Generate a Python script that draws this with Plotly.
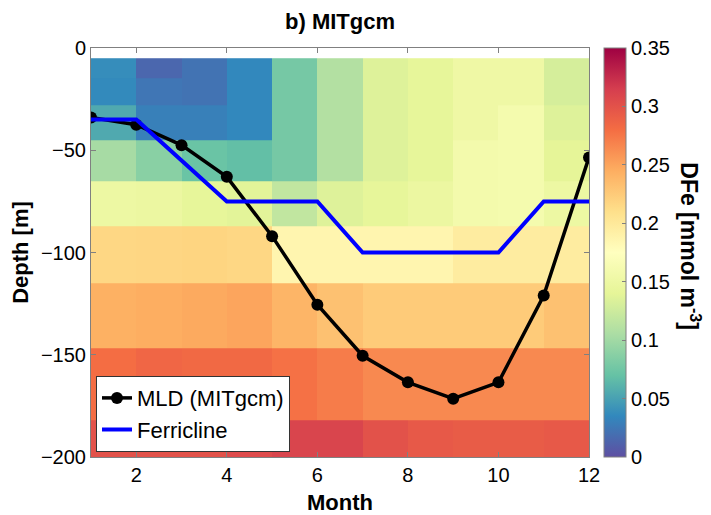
import plotly.graph_objects as go

# ---- data ----
months = [1, 2, 3, 4, 5, 6, 7, 8, 9, 10, 11, 12]
# layer edges (m), shallow -> deep
depth_edges = [-5, -15, -28, -45, -65, -87, -115, -147, -182, -200]
# DFe (mmol m^-3), rows shallow -> deep, columns = month bins 1-2 ... 11-12
dfe = [
    [0.038, 0.015, 0.022, 0.035, 0.078, 0.110, 0.135, 0.142, 0.152, 0.152, 0.130],
    [0.036, 0.024, 0.022, 0.035, 0.078, 0.110, 0.135, 0.142, 0.152, 0.152, 0.130],
    [0.055, 0.030, 0.030, 0.035, 0.078, 0.110, 0.135, 0.142, 0.152, 0.160, 0.135],
    [0.103, 0.088, 0.072, 0.068, 0.078, 0.110, 0.135, 0.142, 0.158, 0.160, 0.140],
    [0.150, 0.148, 0.142, 0.138, 0.118, 0.135, 0.142, 0.148, 0.158, 0.160, 0.150],
    [0.216, 0.217, 0.218, 0.216, 0.186, 0.186, 0.186, 0.186, 0.196, 0.196, 0.196],
    [0.243, 0.245, 0.247, 0.250, 0.240, 0.232, 0.225, 0.225, 0.225, 0.225, 0.232],
    [0.280, 0.285, 0.283, 0.283, 0.278, 0.272, 0.265, 0.265, 0.265, 0.265, 0.265],
    [0.300, 0.300, 0.300, 0.305, 0.310, 0.310, 0.300, 0.295, 0.293, 0.293, 0.295],
]
mld = [-34, -37.5, -47.5, -63, -92, -125.5, -150.5, -163.5, -171.5, -163.5, -121, -53.5]
ferricline = [-35, -35, -55, -75, -75, -75, -100, -100, -100, -100, -75, -75]

y_ticks = [0, -50, -100, -150, -200]
x_ticks = [2, 4, 6, 8, 10, 12]
cb_ticks = [0, 0.05, 0.1, 0.15, 0.2, 0.25, 0.3, 0.35]
cb_ticktext = ["0", "0.05", "0.1", "0.15", "0.2", "0.25", "0.3", "0.35"]

spectral_r = ["#5e4fa2", "#3288bd", "#66c2a5", "#abdda4", "#e6f598", "#ffffbf",
              "#fee08b", "#fdae61", "#f46d43", "#d53e4f", "#9e0142"]
colorscale = [[i / 10, c] for i, c in enumerate(spectral_r)]

FONT = "Liberation Sans, Arial, Helvetica, sans-serif"

# page body has an 8px margin: figure is drawn 8px right/down
W, H = 703, 507

fig = go.Figure()
fig.add_trace(go.Heatmap(
    x=months,
    y=depth_edges[::-1],
    z=dfe[::-1],
    zmin=0, zmax=0.35,
    colorscale=colorscale,
    showscale=True,
    colorbar=dict(
        x=1.03, xanchor="left", xpad=0,
        y=0.5, yanchor="middle", len=1, lenmode="fraction", ypad=0,
        thickness=22, thicknessmode="pixels",
        tickvals=cb_ticks, ticktext=cb_ticktext,
        ticks="inside", ticklen=4, tickcolor="#808080",
        outlinecolor="#808080", outlinewidth=1,
        tickfont=dict(size=20, color="black", family=FONT),
    ),
    hoverinfo="skip",
    showlegend=False,
))
fig.add_trace(go.Scatter(
    x=months, y=mld, mode="lines+markers", name="MLD (MITgcm)",
    line=dict(color="black", width=3.5),
    marker=dict(color="black", size=12),
))
fig.add_trace(go.Scatter(
    x=months, y=ferricline, mode="lines", name="Ferricline",
    line=dict(color="#0000ff", width=4),
))

axis_common = dict(
    showline=True, mirror="ticks", linecolor="#808080", linewidth=1,
    ticks="inside", ticklen=5, tickcolor="#808080",
    showgrid=False, zeroline=False, automargin=False,
    tickfont=dict(size=20, color="black", family=FONT),
)
fig.update_xaxes(range=[1, 12], tickvals=x_ticks,
                 title=dict(text="<b>Month</b>", font=dict(size=22, color="black", family=FONT), standoff=15),
                 **axis_common)
fig.update_yaxes(range=[-200, 0], tickvals=y_ticks,
                 title=dict(text="<b>Depth [m]</b>", font=dict(size=22, color="black", family=FONT), standoff=6),
                 **axis_common)

fig.add_annotation(
    text="<b>DFe [mmol m<sup>-3</sup>]</b>", textangle=90,
    xref="paper", yref="paper", x=1.203, y=0.515, showarrow=False,
    xanchor="center", yanchor="middle",
    font=dict(size=23, color="black", family=FONT),
)

fig.update_layout(
    width=W, height=H,
    margin=dict(l=83, r=122, t=40, b=58),
    paper_bgcolor="white", plot_bgcolor="white",
    font=dict(family=FONT, color="black"),
    title=dict(text="<b>b) MITgcm</b>", x=0.5, xref="paper", xanchor="center",
               y=1 - 13 / H, yref="container", yanchor="middle",
               font=dict(size=22, color="black", family=FONT)),
    legend=dict(x=0.01, y=0.012, xanchor="left", yanchor="bottom",
                bgcolor="white", bordercolor="#333333", borderwidth=1,
                font=dict(size=22, color="black", family=FONT),
                tracegroupgap=0, itemwidth=30),
)

fig.write_html("out.html")
